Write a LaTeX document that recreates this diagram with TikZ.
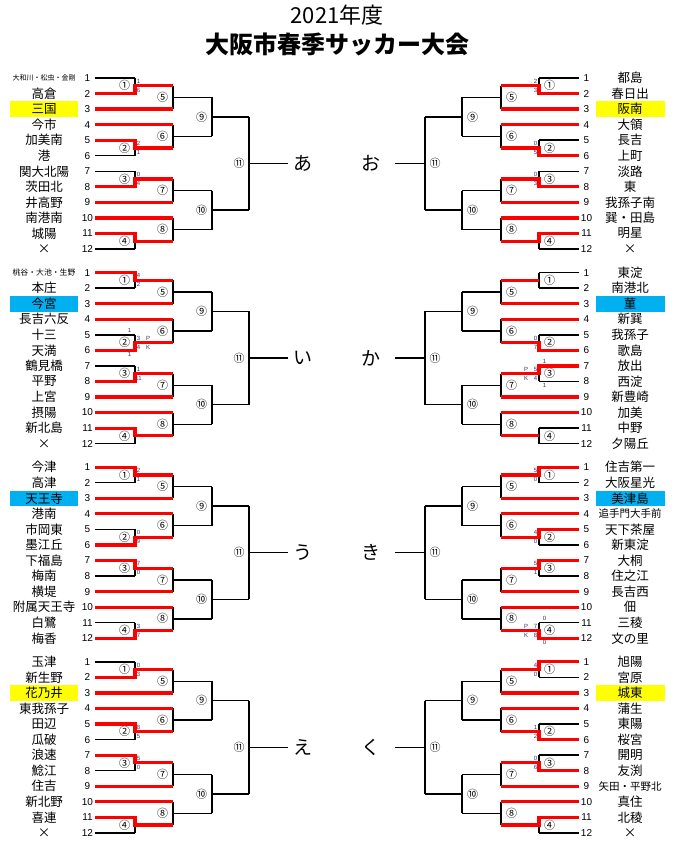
\documentclass[tikz,border=0pt]{standalone}
\usepackage{graphicx}
\usepackage{fontspec}
\setmainfont{Liberation Sans}
\newfontfamily\jp{Noto Sans CJK JP}
\usetikzlibrary{positioning}

\definecolor{hlyellow}{RGB}{255,255,0}
\definecolor{hlcyan}{RGB}{0,176,240}
\definecolor{scorecol}{RGB}{45,55,100}

% x from the centre line, y of a row in a block
\newcommand{\X}[1]{337+(\sd)*(#1)}
\newcommand{\Y}[1]{\yo+((#1)-1)*15.55}

% long team names are squeezed
\newsavebox\namebox
\newcommand{\fitname}[1]{\sbox\namebox{#1}%
  \ifdim\wd\namebox>63pt\resizebox{63pt}{!}{\usebox\namebox}\else\usebox\namebox\fi}

\begin{document}
\begin{tikzpicture}[x=1pt, y=-1pt,
    wire/.style={black, line width=1.4pt},
    won/.style={red, line width=3.2pt},
    team/.style={font=\jp\fontsize{12.5}{13}\selectfont, inner sep=0pt},
    num/.style={font=\fontsize{10}{10}\selectfont, inner sep=0pt},
    game/.style={font=\jp\fontsize{11}{11}\selectfont, inner sep=0pt},
    score/.style={font=\fontsize{6}{6}\selectfont, text=scorecol, inner sep=0pt},
    group/.style={font=\jp\fontsize{19}{19}\selectfont, inner sep=0pt}]

\useasboundingbox (0,0) rectangle (672,850);

% Title
\node[font=\jp\fontsize{22}{22}\selectfont] (year) at (337,15) {2021年度};
\node[font=\jp\bfseries\fontsize{24}{24}\selectfont] (title) at (337,44) {大阪市春季サッカー大会};

% Blocks
\foreach \blk/\sd/\yo/\kn/\fn/\hl/\names in {
  a/-1/78/あ/49/hlyellow/{大和川・松虫・金剛,高倉,三国,今市,加美南,港,関大北陽,茨田北,井高野,南港南,城陽,×},
  i/-1/272.6/い/49/hlcyan/{桃谷・大池・生野,本庄,今宮,長吉六反,十三,天満,鶴見橋,平野,上宮,摂陽,新北島,×},
  u/-1/467.2/う/49/hlcyan/{今津,高津,天王寺,港南,市岡東,墨江丘,下福島,梅南,横堤,附属天王寺,白鷺,梅香},
  e/-1/661.8/え/49/hlyellow/{玉津,新生野,花乃井,東我孫子,田辺,瓜破,浪速,鯰江,住吉,新北野,喜連,×},
  o/1/78/お/58/hlyellow/{都島,春日出,阪南,大領,長吉,上町,淡路,東,我孫子南,巽・田島,明星,×},
  ka/1/272.6/か/58/hlcyan/{東淀,南港北,菫,新巽,我孫子,歌島,放出,西淀,新豊崎,加美,中野,夕陽丘},
  ki/1/467.2/き/58/hlcyan/{住吉第一,大阪星光,美津島,追手門大手前,天下茶屋,新東淀,大桐,住之江,長吉西,佃,三稜,文の里},
  ku/1/661.8/く/58/hlyellow/{旭陽,宮原,城東,蒲生,東陽,桜宮,開明,友渕,矢田・平野北,真住,北稜,×}}{
  % seed team of the block
  \fill[\hl] ({\X{259}},{\Y{3}-7.8}) rectangle ({\X{327.5}},{\Y{3}+7.8});
  \foreach \t [count=\i] in \names {
    \node[team] (\blk-t\i) at ({\X{293}},{\Y{\i}}) {\fitname{\t}};
    \node[num] (\blk-n\i) at ({\X{249.5}},{\Y{\i}}) {\i};
  }
  % first round
  \foreach \i in {1,2,5,6,7,8,11,12}
    \draw[wire] ({\X{242}},{\Y{\i}}) -- ({\X{202}},{\Y{\i}});
  \foreach \i in {1,5,7,11}
    \draw[wire] ({\X{202}},{\Y{\i}}) -- ({\X{202}},{\Y{\i+1}});
  % second round
  \foreach \i/\j in {1.5/3, 4/5.5, 7.5/9, 10/11.5}
    \draw[wire] ({\X{164}},{\Y{\i}}) -- ({\X{164}},{\Y{\j}})
      ({\X{164}},{\Y{(\i+\j)/2}}) -- ({\X{125}},{\Y{(\i+\j)/2}});
  % third round and final
  \foreach \i/\j in {2.25/4.75, 8.25/10.75}
    \draw[wire] ({\X{125}},{\Y{\i}}) -- ({\X{125}},{\Y{\j}})
      ({\X{125}},{\Y{(\i+\j)/2}}) -- ({\X{88}},{\Y{(\i+\j)/2}});
  \draw[wire] ({\X{88}},{\Y{3.5}}) -- ({\X{88}},{\Y{9.5}})
    ({\X{88}},{\Y{6.5}}) -- ({\X{\fn}},{\Y{6.5}});
  % still in: seeds and first round winners
  \foreach \i in {3,4,9,10}
    \draw[won] ({\X{242}},{\Y{\i}}) -- ({\X{164}},{\Y{\i}});
  \foreach \i in {1.5,5.5,7.5,11.5}
    \draw[won] ({\X{202}},{\Y{\i}}) -- ({\X{164}},{\Y{\i}});
  % match numbers
  \foreach \g/\o/\r [count=\k] in {①/212.5/1.5, ②/212.5/5.5, ③/212.5/7.5, ④/212.5/11.5,
      ⑤/174.5/2.25, ⑥/174.5/4.75, ⑦/174.5/8.25, ⑧/174.5/10.75,
      ⑨/135.5/3.5, ⑩/135.5/9.5, ⑪/98/6.5}
    \node[game] (\blk-m\k) at ({\X{\o}},{\Y{\r}}) {\g};
  \node[group] (\blk-k) at ({\X{34}},{\Y{6.5}}) {\kn};
}

% Winners of the first round
\foreach \sd/\yo/\w/\m in {-1/78/2/1.5, -1/78/5/5.5, -1/78/8/7.5, -1/78/11/11.5,
    -1/272.6/1/1.5, -1/272.6/6/5.5, -1/272.6/8/7.5, -1/272.6/11/11.5,
    -1/467.2/1/1.5, -1/467.2/6/5.5, -1/467.2/7/7.5, -1/467.2/12/11.5,
    -1/661.8/2/1.5, -1/661.8/5/5.5, -1/661.8/7/7.5, -1/661.8/11/11.5,
    1/78/2/1.5, 1/78/6/5.5, 1/78/8/7.5, 1/78/11/11.5,
    1/272.6/6/5.5, 1/272.6/7/7.5,
    1/467.2/1/1.5, 1/467.2/5/5.5, 1/467.2/7/7.5, 1/467.2/12/11.5,
    1/661.8/1/1.5, 1/661.8/6/5.5, 1/661.8/8/7.5, 1/661.8/11/11.5}
  \draw[won] ({\X{242}},{\Y{\w}}) -- ({\X{202}},{\Y{\w}}) -- ({\X{202}},{\Y{\m}}) -- ({\X{164}},{\Y{\m}});

% Scores
\foreach \sd/\yo/\m/\ta/\tb [count=\k] in {-1/78/1.5/1/6, -1/78/5.5/2/1, -1/78/7.5/0/4,
    -1/272.6/1.5/4/2, -1/272.6/7.5/1/11,
    -1/467.2/1.5/2/1, -1/467.2/5.5/0/9, -1/467.2/7.5/7/0, -1/467.2/11.5/3/7,
    -1/661.8/1.5/0/3, -1/661.8/5.5/8/5, -1/661.8/7.5/5/0,
    1/78/1.5/2/3, 1/78/5.5/0/5, 1/78/7.5/0/3,
    1/272.6/5.5/0/7,
    1/467.2/1.5/5/0, 1/467.2/5.5/4/0, 1/467.2/7.5/5/1,
    1/661.8/1.5/4/0, 1/661.8/5.5/1/2, 1/661.8/7.5/0/6} {
  \node[score] (s\k a) at ({\X{198.5}},{\Y{\m}-4.5}) {\ta};
  \node[score] (s\k b) at ({\X{198.5}},{\Y{\m}+4.5}) {\tb};
}

% Penalty shoot-outs
\foreach \sd/\yo/\m/\ta/\tb/\pa/\pb [count=\k] in {-1/272.6/5.5/1/1/3/4,
    1/272.6/7.5/1/1/5/4, 1/467.2/11.5/0/0/7/8} {
  \node[score] (pk\k a) at ({\X{207.5}},{\Y{\m-0.5}-4}) {\ta};
  \node[score] (pk\k b) at ({\X{207.5}},{\Y{\m+0.5}+4}) {\tb};
  \node[score] (pk\k c) at ({\X{198.5}},{\Y{\m}-4.5}) {\pa};
  \node[score] (pk\k d) at ({\X{198.5}},{\Y{\m}+4.5}) {\pb};
  \node[score] (pk\k p) at ({\X{189}},{\Y{\m}-4.5}) {P};
  \node[score] (pk\k q) at ({\X{189}},{\Y{\m}+4.5}) {K};
}
\end{tikzpicture}
\end{document}
